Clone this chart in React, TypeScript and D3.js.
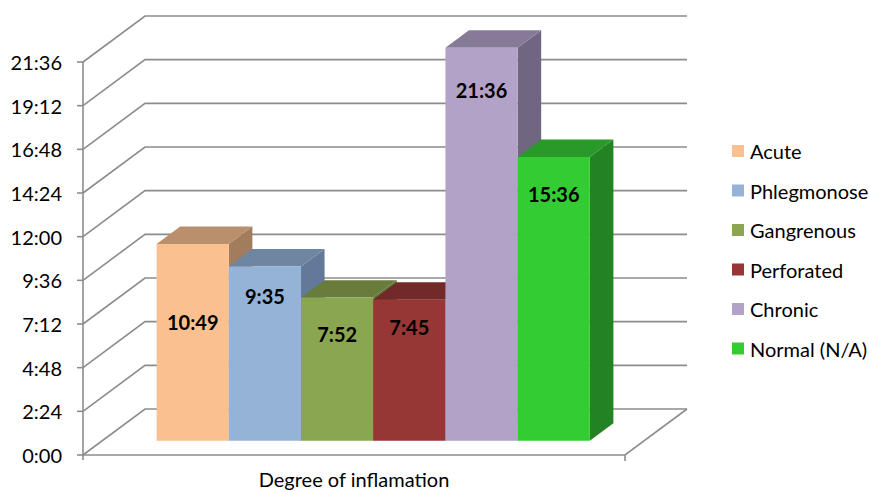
import * as d3 from 'd3';

// chart values (durations h:mm)
const categories = ['Acute', 'Phlegmonose', 'Gangrenous', 'Perforated', 'Chronic', 'Normal (N/A)'];
const durations = ['10:49', '9:35', '7:52', '7:45', '21:36', '15:36'];
const tickLabels = ['0:00', '2:24', '4:48', '7:12', '9:36', '12:00', '14:24', '16:48', '19:12', '21:36'];
const axisTitle = 'Degree of inflamation';

const frontColors = ['#FAC090', '#95B3D7', '#8BA650', '#963735', '#B3A2C7', '#33CC33'];
const topColors = ['#BA8F6B', '#6F86A2', '#687D3C', '#722929', '#877A98', '#299A29'];
const sideColors = ['#A27D5D', '#62799A', '#5B6D34', '#632424', '#716682', '#238223'];

// label drop below bar top, px (Excel places these oddly)
const LABEL_DROP = [78, 30, 36, 27, 42, 37];

const W = 869, H = 492;
const X0 = 83, X1 = 625;          // floor front edge
const DX = 62, DY = -46;           // depth offset of back wall
const D0 = 0.31, D1 = 0.69;        // bar depth range
const FONT = 'Lato, "Open Sans", sans-serif';
const FS = 20;

const toMin = (s: string) => {
  const [h, m] = s.split(':').map(Number);
  return h * 60 + m;
};

export default function App() {
  const values = durations.map(toMin);
  const ticks = tickLabels.map(toMin);
  const y = d3.scaleLinear().domain([0, d3.max(ticks)!]).range([455, 62]);
  const x = d3.scaleBand<string>().domain(categories).range([X0 + 54.4, X1 - 54.4]).padding(0);

  const pt = (px: number, v: number, d: number) => [px + d * DX, y(v) + d * DY] as [number, number];
  const poly = (ps: [number, number][]) => ps.map((p) => p.join(',')).join(' ');
  const grid = '#8C8C8C';

  return (
    <svg width={W} height={H} style={{ position: 'absolute', left: 0, top: 0, background: '#fff' }}>
      {/* back wall gridlines */}
      {ticks.map((t) => {
        const a = pt(X0, t, 0), b = pt(X0, t, 1), c = pt(X1, t, 1);
        return <polyline key={t} points={poly([a, b, c])} fill="none" stroke={grid} strokeWidth={1.6} />;
      })}
      {/* floor */}
      <polyline
        points={poly([pt(X1, 0, 1), pt(X1, 0, 0), pt(X0, 0, 0)])}
        fill="none" stroke={grid} strokeWidth={1.6}
      />
      {/* bars */}
      {categories.map((c, i) => {
        const l = x(c)!, r = l + x.bandwidth(), v = values[i];
        const front = [pt(l, v, D0), pt(r, v, D0), pt(r, 0, D0), pt(l, 0, D0)];
        const top = [pt(l, v, D0), pt(l, v, D1), pt(r, v, D1), pt(r, v, D0)];
        const side = [pt(r, v, D0), pt(r, v, D1), pt(r, 0, D1), pt(r, 0, D0)];
        return (
          <g key={c}>
            <polygon points={poly(side)} fill={sideColors[i]} />
            <polygon points={poly(top)} fill={topColors[i]} />
            <polygon points={poly(front)} fill={frontColors[i]} />
          </g>
        );
      })}
      {categories.map((c, i) => {
        const [fx, fy] = pt(x(c)! + x.bandwidth() / 2, values[i], D0);
        return (
          <text key={c} x={fx} y={fy + LABEL_DROP[i]} textAnchor="middle" dominantBaseline="central"
            fontFamily={FONT} fontWeight="bold" fontSize={FS} fill="#000">
            {durations[i]}
          </text>
        );
      })}
      {/* y axis */}
      <line x1={X0} x2={X0} y1={y(0) + 5} y2={y(d3.max(ticks)!)} stroke={grid} strokeWidth={1.6} />
      <line x1={X1} x2={X1} y1={y(0)} y2={y(0) + 6} stroke={grid} strokeWidth={1.6} />
      {ticks.map((t, i) => (
        <g key={t}>
          <line x1={X0 - 6} x2={X0} y1={y(t)} y2={y(t)} stroke={grid} strokeWidth={1.6} />
          <text x={62} y={y(t)} textAnchor="end" dominantBaseline="central" fontFamily={FONT}
            fontSize={FS} fill="#000">
            {tickLabels[i]}
          </text>
        </g>
      ))}
      <text x={(X0 + X1) / 2} y={487} textAnchor="middle" fontFamily={FONT}
        fontSize={FS} fill="#000">
        {axisTitle}
      </text>
      {/* legend */}
      {categories.map((c, i) => (
        <g key={c} transform={`translate(732,${151 + i * 39.5})`}>
          <rect x={0} y={-6} width={12} height={12} fill={frontColors[i]} />
          <text x={18} y={0} dominantBaseline="central" fontFamily={FONT} fontSize={FS} fill="#000">
            {c}
          </text>
        </g>
      ))}
    </svg>
  );
}
